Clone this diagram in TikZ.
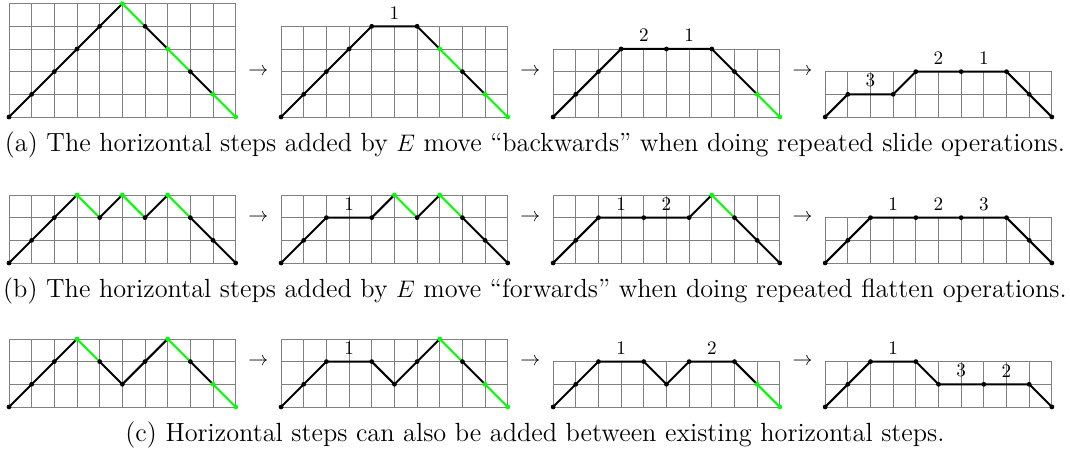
\documentclass[tikz,border=0pt]{standalone}
\usepackage{tikz}
\tikzset{
  gridline/.style={line width=0.45pt, draw=black!50},
  seg/.style={line width=1pt, line cap=round, line join=round},
  blk/.style={seg, draw=black},
  grn/.style={seg, draw=green},
  lbl/.style={inner sep=0pt, font=\fontsize{9.6}{10}\selectfont},
  arr/.style={inner sep=0pt},
  captext/.style={inner sep=0pt, anchor=base, font=\fontsize{13.2}{15}\selectfont}
}
\newcommand{\dotsat}[2]{\foreach \p in {#2} \fill[#1] \p circle (1.2pt);}
\newcommand{\lgrid}[1]{\draw[gridline,step={(1,1)}] (0,0) grid (10,#1);}
\begin{document}
\begin{tikzpicture}[x=0.4cm,y=0.4cm]
\useasboundingbox (-0.397,-14.87) rectangle (46.8,5.16);
% ---------------- Row a ----------------
\begin{scope}[shift={(0,0)}]
  \lgrid{5}
  \draw[blk] (0,0)--(5,5);
  \draw[grn] (5,5)--(6,4); \draw[blk] (6,4)--(7,3);
  \draw[grn] (7,3)--(8,2); \draw[blk] (8,2)--(9,1);
  \draw[grn] (9,1)--(10,0);
  \dotsat{black}{(0,0),(1,1),(2,2),(3,3),(4,4),(6,4),(8,2)}
  \dotsat{green}{(5,5),(7,3),(9,1),(10,0)}
  \node[arr] (a12) at (11,2) {$\rightarrow$};
\end{scope}
\begin{scope}[shift={(12,0)}]
  \lgrid{4}
  \draw[blk] (0,0)--(4,4)--(6,4)--(7,3);
  \draw[grn] (7,3)--(8,2); \draw[blk] (8,2)--(9,1);
  \draw[grn] (9,1)--(10,0);
  \dotsat{black}{(0,0),(1,1),(2,2),(3,3),(4,4),(6,4),(8,2)}
  \dotsat{green}{(7,3),(9,1),(10,0)}
  \node[lbl] (a2l1) at (5,4.6) {1};
  \node[arr] (a23) at (11,2) {$\rightarrow$};
\end{scope}
\begin{scope}[shift={(24,0)}]
  \lgrid{3}
  \draw[blk] (0,0)--(3,3)--(7,3)--(9,1);
  \draw[grn] (9,1)--(10,0);
  \dotsat{black}{(0,0),(1,1),(2,2),(3,3),(5,3),(7,3),(8,2)}
  \dotsat{green}{(9,1),(10,0)}
  \node[lbl] (a3l2) at (4,3.6) {2};
  \node[lbl] (a3l1) at (6,3.6) {1};
  \node[arr] (a34) at (11,2) {$\rightarrow$};
\end{scope}
\begin{scope}[shift={(36,0)}]
  \lgrid{2}
  \draw[blk] (0,0)--(1,1)--(3,1)--(4,2)--(8,2)--(10,0);
  \dotsat{black}{(0,0),(1,1),(3,1),(4,2),(6,2),(8,2),(9,1),(10,0)}
  \node[lbl] (a4l3) at (2,1.6) {3};
  \node[lbl] (a4l2) at (5,2.6) {2};
  \node[lbl] (a4l1) at (7,2.6) {1};
\end{scope}
\node[captext] (capa) at (23.2,-1.544) {(a) The horizontal steps added by $E$ move ``backwards'' when doing repeated slide operations.};
% ---------------- Row b ----------------
\begin{scope}[shift={(0,-6.44)}]
  \lgrid{3}
  \draw[blk] (0,0)--(3,3);
  \draw[grn] (3,3)--(4,2); \draw[blk] (4,2)--(5,3);
  \draw[grn] (5,3)--(6,2); \draw[blk] (6,2)--(7,3);
  \draw[grn] (7,3)--(8,2); \draw[blk] (8,2)--(10,0);
  \dotsat{black}{(0,0),(1,1),(2,2),(4,2),(6,2),(8,2),(9,1),(10,0)}
  \dotsat{green}{(3,3),(5,3),(7,3)}
  \node[arr] (b12) at (11,2) {$\rightarrow$};
\end{scope}
\begin{scope}[shift={(12,-6.44)}]
  \lgrid{3}
  \draw[blk] (0,0)--(2,2)--(4,2)--(5,3);
  \draw[grn] (5,3)--(6,2); \draw[blk] (6,2)--(7,3);
  \draw[grn] (7,3)--(8,2); \draw[blk] (8,2)--(10,0);
  \dotsat{black}{(0,0),(1,1),(2,2),(4,2),(6,2),(8,2),(9,1),(10,0)}
  \dotsat{green}{(5,3),(7,3)}
  \node[lbl] (b2l1) at (3,2.6) {1};
  \node[arr] (b23) at (11,2) {$\rightarrow$};
\end{scope}
\begin{scope}[shift={(24,-6.44)}]
  \lgrid{3}
  \draw[blk] (0,0)--(2,2)--(6,2)--(7,3);
  \draw[grn] (7,3)--(8,2); \draw[blk] (8,2)--(10,0);
  \dotsat{black}{(0,0),(1,1),(2,2),(4,2),(6,2),(8,2),(9,1),(10,0)}
  \dotsat{green}{(7,3)}
  \node[lbl] (b3l1) at (3,2.6) {1};
  \node[lbl] (b3l2) at (5,2.6) {2};
  \node[arr] (b34) at (11,2) {$\rightarrow$};
\end{scope}
\begin{scope}[shift={(36,-6.44)}]
  \lgrid{2}
  \draw[blk] (0,0)--(2,2)--(8,2)--(10,0);
  \dotsat{black}{(0,0),(1,1),(2,2),(4,2),(6,2),(8,2),(9,1),(10,0)}
  \node[lbl] (b4l1) at (3,2.6) {1};
  \node[lbl] (b4l2) at (5,2.6) {2};
  \node[lbl] (b4l3) at (7,2.6) {3};
\end{scope}
\node[captext] (capb) at (23.2,-7.984) {(b) The horizontal steps added by $E$ move ``forwards'' when doing repeated flatten operations.};
% ---------------- Row c ----------------
\begin{scope}[shift={(0,-12.79)}]
  \lgrid{3}
  \draw[blk] (0,0)--(3,3);
  \draw[grn] (3,3)--(4,2); \draw[blk] (4,2)--(5,1)--(7,3);
  \draw[grn] (7,3)--(8,2); \draw[blk] (8,2)--(9,1);
  \draw[grn] (9,1)--(10,0);
  \dotsat{black}{(0,0),(1,1),(2,2),(4,2),(5,1),(6,2),(8,2)}
  \dotsat{green}{(3,3),(7,3),(9,1),(10,0)}
  \node[arr] (c12) at (11,2) {$\rightarrow$};
\end{scope}
\begin{scope}[shift={(12,-12.79)}]
  \lgrid{3}
  \draw[blk] (0,0)--(2,2)--(4,2)--(5,1)--(7,3);
  \draw[grn] (7,3)--(8,2); \draw[blk] (8,2)--(9,1);
  \draw[grn] (9,1)--(10,0);
  \dotsat{black}{(0,0),(1,1),(2,2),(4,2),(5,1),(6,2),(8,2)}
  \dotsat{green}{(7,3),(9,1),(10,0)}
  \node[lbl] (c2l1) at (3,2.6) {1};
  \node[arr] (c23) at (11,2) {$\rightarrow$};
\end{scope}
\begin{scope}[shift={(24,-12.79)}]
  \lgrid{2}
  \draw[blk] (0,0)--(2,2)--(4,2)--(5,1)--(6,2)--(8,2)--(9,1);
  \draw[grn] (9,1)--(10,0);
  \dotsat{black}{(0,0),(1,1),(2,2),(4,2),(5,1),(6,2),(8,2)}
  \dotsat{green}{(9,1),(10,0)}
  \node[lbl] (c3l1) at (3,2.6) {1};
  \node[lbl] (c3l2) at (7,2.6) {2};
  \node[arr] (c34) at (11,2) {$\rightarrow$};
\end{scope}
\begin{scope}[shift={(36,-12.79)}]
  \lgrid{2}
  \draw[blk] (0,0)--(2,2)--(4,2)--(5,1)--(9,1)--(10,0);
  \dotsat{black}{(0,0),(1,1),(2,2),(4,2),(5,1),(7,1),(9,1),(10,0)}
  \node[lbl] (c4l1) at (3,2.6) {1};
  \node[lbl] (c4l3) at (6,1.6) {3};
  \node[lbl] (c4l2) at (8,1.6) {2};
\end{scope}
\node[captext] (capc) at (23.2,-14.334) {(c) Horizontal steps can also be added between existing horizontal steps.};
\end{tikzpicture}
\end{document}
